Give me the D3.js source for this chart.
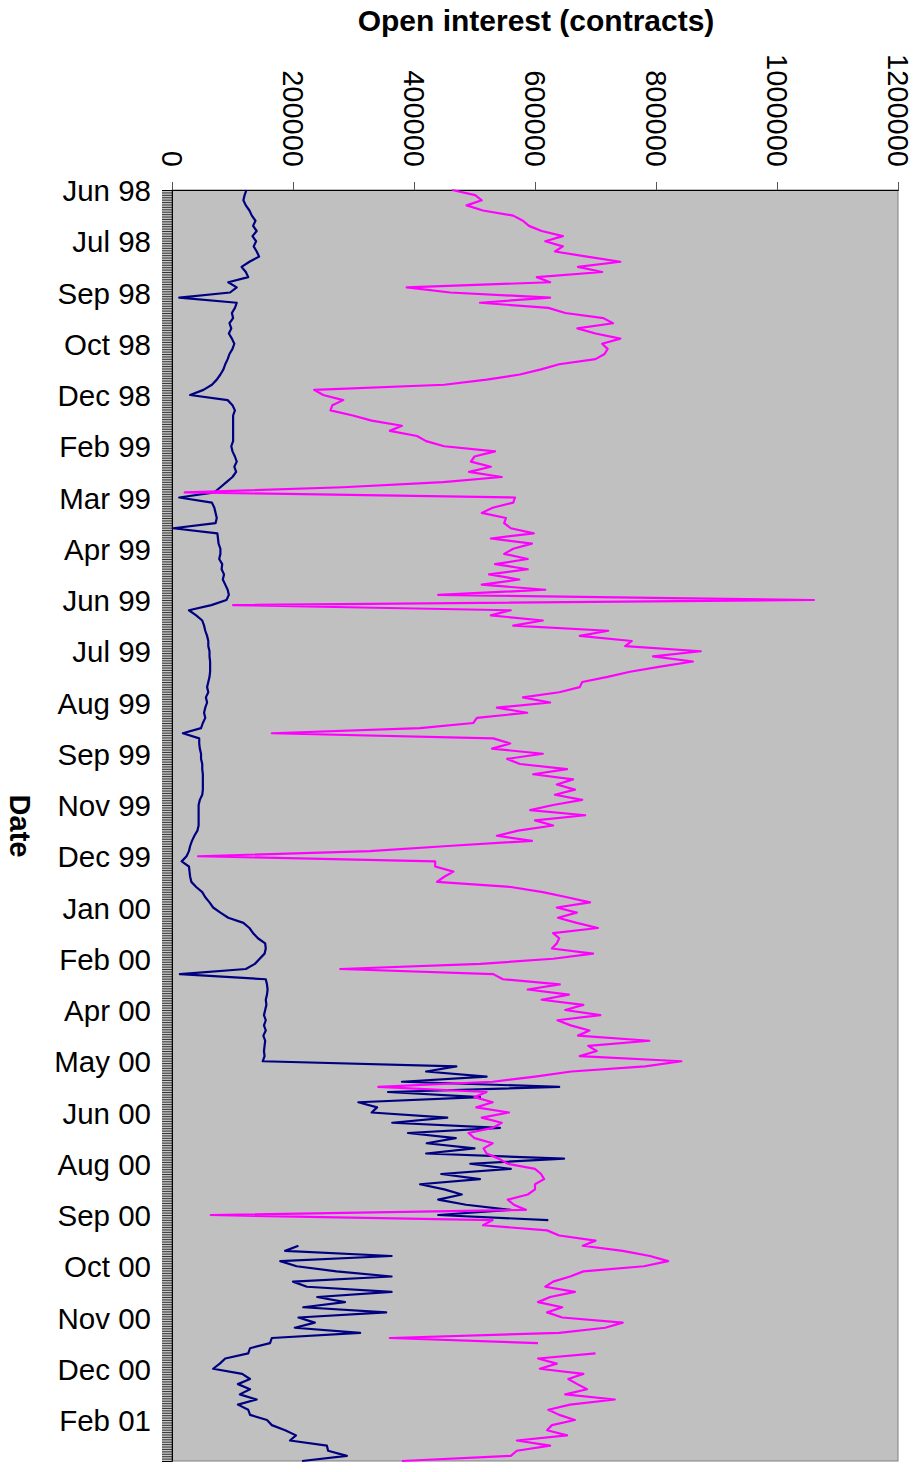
<!DOCTYPE html>
<html lang="en">
<head>
<meta charset="UTF-8">
<title>Open interest</title>
<script src="https://cdnjs.cloudflare.com/ajax/libs/d3/7.8.5/d3.min.js"></script>
<style>
  body { margin: 0; background: #fff; }
  svg { display: block; }
  text { font-family: "Liberation Sans", Arial, sans-serif; fill: #000; }
</style>
</head>
<body>
<div id="chart"></div>
<script>
// category labels, one every 10 samples
const tickLabels = ["Jun 98","Jul 98","Sep 98","Oct 98","Dec 98","Feb 99","Mar 99","Apr 99",
  "Jun 99","Jul 99","Aug 99","Sep 99","Nov 99","Dec 99","Jan 00","Feb 00","Apr 00","May 00",
  "Jun 00","Aug 00","Sep 00","Oct 00","Nov 00","Dec 00","Feb 01"];
const labelStep = 10;
const valueTicks = [0, 200000, 400000, 600000, 800000, 1000000, 1200000];

// open interest, thousands of contracts (null = no data)
const navySeries = [
  123,120,118,122,128,132,138,134,140,133,
  139,135,140,144,128,115,122,126,93,107,
  96,12,107,104,99,101,95,98,94,99,
  103,100,95,92,88,85,80,74,66,52,
  30,92,100,104,101,101,101,101,101,101,
  98,100,104,107,103,106,100,90,80,70,
  12,66,70,72,74,72,2,75,76,77,
  80,80,78,83,82,86,84,88,92,94,
  90,65,28,40,50,53,55,58,60,60,
  62,62,63,63,63,62,60,58,60,56,
  58,55,53,55,51,48,18,45,45,46,
  48,48,50,50,51,51,51,51,50,46,
  44,44,44,44,44,42,37,33,30,28,
  24,16,28,29,30,32,40,50,55,62,
  68,80,93,118,128,134,142,154,155,153,
  145,137,122,13,155,157,158,157,155,156,
  154,152,155,152,155,151,154,153,152,153,
  150,470,420,520,380,640,357,509,308,339,
  330,455,364,542,390,469,421,500,420,648,
  493,560,445,509,410,450,479,440,486,560,
  440,622,null,null,null,null,209,187,363,179,
  206,272,363,200,223,363,240,286,217,354,
  209,236,203,311,165,162,129,126,88,79,
  68,116,129,109,129,112,140,109,126,129,
  157,165,187,205,195,256,258,289,215
];
const magentaSeries = [
  463,501,512,487,514,564,580,590,611,646,
  617,646,633,686,741,671,711,603,625,388,
  460,625,509,622,650,713,729,670,700,741,
  711,720,715,700,640,610,575,520,450,235,
  250,283,265,262,299,330,380,360,405,420,
  450,534,500,494,527,491,545,448,283,21,
  567,564,530,512,552,549,560,598,527,595,
  564,549,588,534,588,524,574,512,617,440,
  1061,101,560,527,613,564,721,674,760,749,
  874,795,861,807,757,720,678,674,640,580,
  625,537,587,504,498,410,165,531,559,529,
  613,554,575,653,597,663,636,666,633,678,
  630,592,683,600,630,572,537,595,456,327,
  43,435,435,465,450,438,560,613,653,691,
  636,669,638,669,704,630,640,636,628,696,
  630,510,278,531,547,641,588,656,611,680,
  650,708,637,659,690,671,789,688,702,674,
  842,782,660,600,530,341,520,500,530,503,
  557,512,545,530,490,500,530,515,520,540,
  555,600,610,615,600,600,588,555,565,585,
  64,530,514,620,640,700,679,745,790,820,
  780,680,658,630,617,666,625,605,645,620,
  645,745,716,640,360,605,null,700,605,636,
  608,680,655,670,686,650,732,658,622,640,
  666,628,620,653,570,625,570,560,380
];

const W = 913, H = 1472;
const plot = { left: 172, right: 898, top: 190, bottom: 1461 };
const n = navySeries.length;

const svg = d3.select("#chart").append("svg")
  .attr("width", W).attr("height", H);

const x = d3.scaleLinear().domain([0, 1200000]).range([plot.left, plot.right]);
const y = d3.scaleLinear().domain([0, n - 1]).range([plot.top, plot.bottom]);

// plot area
svg.append("rect")
  .attr("x", plot.left).attr("y", plot.top)
  .attr("width", plot.right - plot.left).attr("height", plot.bottom - plot.top)
  .attr("fill", "#c0c0c0").attr("stroke", "#808080").attr("stroke-width", 1);

// value axis on top
const xAxis = svg.append("g")
  .attr("transform", `translate(0,${plot.top})`)
  .call(d3.axisTop(x).tickValues(valueTicks).tickSize(8).tickFormat(d3.format("d")));
xAxis.select(".domain").attr("stroke", "#000");
xAxis.selectAll(".tick line").attr("stroke", "#555");
xAxis.selectAll(".tick text")
  .attr("transform", "rotate(90)")
  .attr("x", -23).attr("y", 10.5).attr("dy", 0)
  .attr("text-anchor", "end")
  .style("font-size", "29px");

// category axis: a tick per sample subdivision, labels every labelStep
svg.append("g")
  .attr("transform", `translate(${plot.left},0)`)
  .call(d3.axisLeft(y).tickValues(d3.range(0, n - 1 + 1e-6, 1 / 3)).tickSize(10).tickFormat(""))
  .call(g => g.selectAll(".tick line").attr("stroke", "#000").attr("stroke-width", 0.8))
  .call(g => g.select(".domain").attr("stroke", "#000"));

svg.append("g")
  .attr("transform", `translate(${plot.left},0)`)
  .call(d3.axisLeft(y).tickValues(d3.range(0, tickLabels.length).map(k => k * labelStep))
    .tickSize(0).tickPadding(21).tickFormat(i => tickLabels[i / labelStep]))
  .call(g => g.select(".domain").remove())
  .call(g => g.selectAll("text").attr("dy", "0.36em").style("font-size", "29.5px"));

// series
const line = d3.line()
  .defined(d => d != null)
  .x(d => x(d * 1000))
  .y((d, i) => y(i));

svg.append("path").datum(navySeries)
  .attr("fill", "none").attr("stroke", "#000080").attr("stroke-width", 2.2)
  .attr("stroke-linejoin", "round")
  .attr("d", line);

svg.append("path").datum(magentaSeries)
  .attr("fill", "none").attr("stroke", "#ff00ff").attr("stroke-width", 2.2)
  .attr("stroke-linejoin", "round")
  .attr("d", line);

// titles
svg.append("text")
  .attr("x", 536).attr("y", 31)
  .attr("text-anchor", "middle")
  .style("font-size", "30px").style("font-weight", "bold")
  .text("Open interest (contracts)");

svg.append("text")
  .attr("transform", "translate(10,826) rotate(90)")
  .attr("text-anchor", "middle")
  .style("font-size", "29px").style("font-weight", "bold")
  .text("Date");
</script>
</body>
</html>
